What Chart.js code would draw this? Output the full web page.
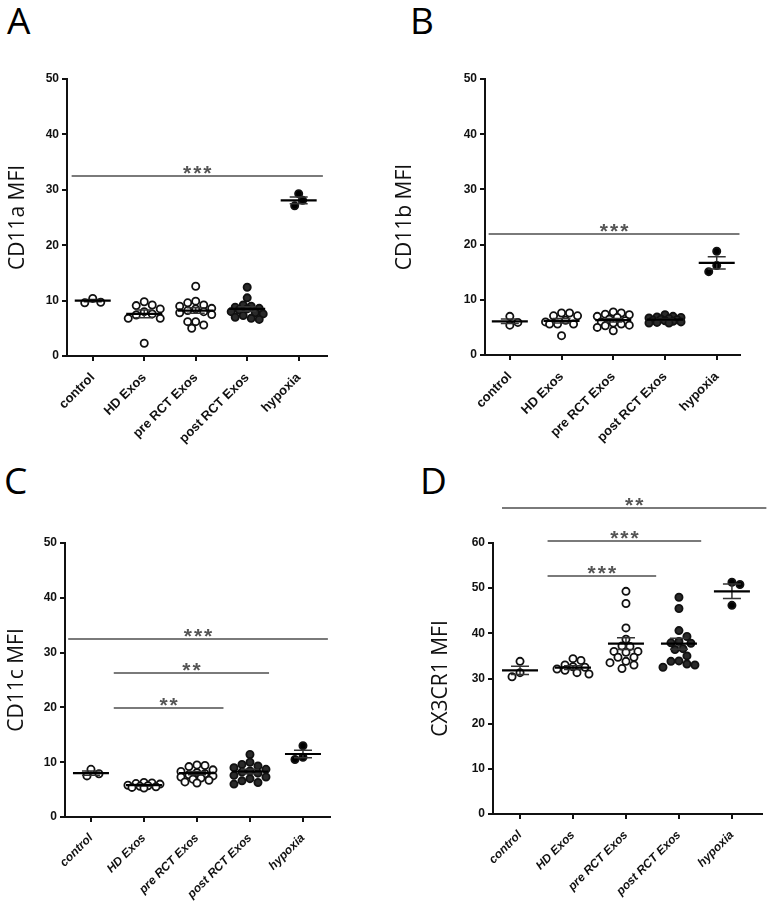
<!DOCTYPE html>
<html>
<head>
<meta charset="utf-8">
<script src="https://cdn.jsdelivr.net/npm/chart.js@4.4.1/dist/chart.umd.min.js"></script>
<style>
  body { margin: 0; background: #fff; width: 767px; height: 910px; position: relative; overflow: hidden; }
  canvas { position: absolute; }
  .letter { position: absolute; font-family: "Open Sans", sans-serif; font-size: 37px; line-height: 1; color: #000; }
</style>
</head>
<body>
<div class="letter" style="left:7px;top:1px">A</div>
<div class="letter" style="left:410px;top:1px">B</div>
<div class="letter" style="left:4px;top:461px">C</div>
<div class="letter" style="left:420px;top:461px">D</div>
<canvas id="cA" width="383" height="455" style="left:0;top:0"></canvas>
<canvas id="cB" width="384" height="455" style="left:383px;top:0"></canvas>
<canvas id="cC" width="383" height="455" style="left:0;top:455px"></canvas>
<canvas id="cD" width="384" height="455" style="left:383px;top:455px"></canvas>
<script>
/* ===== data ===== */
const categories = ["control", "HD Exos", "pre RCT Exos", "post RCT Exos", "hypoxia"];

// CD11a MFI (A)
const cd11aValues = [
  [10.4, 9.6, 9.7],
  [9.8, 9.2, 9.1, 8.5, 8.0, 7.6, 7.4, 6.8, 6.8, 2.3],
  [12.6, 9.9, 9.6, 9.2, 9.0, 8.6, 8.5, 8.2, 8.0, 7.8, 7.5, 6.2, 6.2, 5.6, 5.0],
  [12.4, 10.5, 9.2, 9.0, 8.8, 8.6, 8.5, 8.3, 8.0, 7.8, 7.6, 7.3, 7.0, 6.8, 6.6],
  [29.3, 28.1, 27.1]
];
const cd11aMeans = [10.0, 7.6, 8.2, 8.5, 28.1];
const cd11aSem = [0.2, 0.7, 0.5, 0.4, 0.6];
const cd11aSig = [[-0.41, 4.47, 32.5, "***"]];

// CD11b MFI (B)
const cd11bValues = [
  [7.0, 5.4, 5.9],
  [7.6, 7.6, 7.1, 7.1, 6.3, 6.0, 5.6, 5.6, 5.6, 3.5],
  [7.8, 7.6, 7.4, 7.3, 7.0, 6.8, 6.5, 6.2, 6.0, 5.8, 5.6, 5.4, 5.3, 5.0, 4.4],
  [7.3, 7.0, 6.9, 6.8, 6.7, 6.6, 6.5, 6.4, 6.3, 6.2, 6.1, 6.0, 5.9, 5.8, 5.8],
  [18.8, 16.2, 15.1]
];
const cd11bMeans = [6.1, 6.2, 6.3, 6.4, 16.7];
const cd11bSem = [0.4, 0.4, 0.3, 0.15, 1.1];
const cd11bSig = [[-0.41, 4.44, 22, "***"]];

// CD11c MFI (C)
const cd11cValues = [
  [8.7, 7.5, 7.9],
  [6.3, 6.2, 6.1, 6.0, 5.8, 5.7, 5.6, 5.5, 5.4, 5.3],
  [9.5, 9.4, 9.2, 8.6, 8.3, 8.1, 7.9, 7.7, 7.5, 7.3, 7.1, 6.9, 6.7, 6.4, 6.2],
  [11.4, 10.0, 9.6, 9.3, 9.0, 8.7, 8.4, 8.2, 8.0, 7.6, 7.3, 7.0, 6.6, 6.3, 6.0],
  [13.0, 10.9, 10.5]
];
const cd11cMeans = [8.0, 5.8, 8.0, 8.3, 11.5];
const cd11cSem = [0.4, 0.15, 0.3, 0.4, 0.7];
const cd11cSig = [[-0.43, 4.47, 32.4, "***"], [0.43, 3.36, 26.3, "**"], [0.43, 2.5, 19.9, "**"]];

// CX3CR1 MFI (D)
const cx3cr1Values = [
  [33.8, 30.4, 31.3],
  [34.4, 34.0, 33.0, 32.6, 32.5, 32.1, 31.8, 31.3, 31.0],
  [49.3, 46.6, 41.2, 38.7, 37.2, 37.1, 36.0, 36.0, 35.8, 34.7, 34.7, 33.8, 33.5, 33.0, 32.2],
  [48.0, 45.5, 40.6, 39.3, 38.2, 37.9, 37.8, 36.6, 36.4, 35.0, 33.9, 33.8, 33.2, 33.0, 32.5],
  [51.3, 50.8, 46.2]
];
const cx3cr1Means = [31.8, 32.4, 37.7, 37.7, 49.3];
const cx3cr1Sem = [0.9, 0.4, 1.3, 1.2, 1.6];
const cx3cr1Sig = [[-0.34, 4.65, 67.8, "**"], [0.52, 3.42, 60.4, "***"], [0.52, 2.57, 52.6, "***"]];

/* ===== styling / layout ===== */
const groupFill = ["#fff", "#fff", "#fff", "#2a2a2a", "#000"];
const panels = [
  { id: "cA", title: "CD11a MFI", values: cd11aValues, means: cd11aMeans, sem: cd11aSem, sig: cd11aSig,
    yMax: 50, xMin: -0.5, xMax: 4.55, italic: false, labelSize: 13, titleX: 18,
    box: { w: 383, h: 455, left: 67, right: 327, top: 79, bottom: 356 } },
  { id: "cB", title: "CD11b MFI", values: cd11bValues, means: cd11bMeans, sem: cd11bSem, sig: cd11bSig,
    yMax: 50, xMin: -0.48, xMax: 4.45, italic: false, labelSize: 13, titleX: 22,
    box: { w: 384, h: 455, left: 102, right: 357, top: 79, bottom: 355 } },
  { id: "cC", title: "CD11c MFI", values: cd11cValues, means: cd11cMeans, sem: cd11cSem, sig: cd11cSig,
    yMax: 50, xMin: -0.49, xMax: 4.51, italic: true, labelSize: 12, titleX: 17,
    box: { w: 383, h: 455, left: 65, right: 330, top: 88, bottom: 362 } },
  { id: "cD", title: "CX3CR1 MFI", values: cx3cr1Values, means: cx3cr1Means, sem: cx3cr1Sem, sig: cx3cr1Sig,
    yMax: 60, xMin: -0.51, xMax: 4.56, italic: true, labelSize: 12, titleX: 58,
    box: { w: 384, h: 455, left: 110, right: 379, top: 88, bottom: 359 } }
];

// spread points sideways (dot plot), staying inside a narrow column
function swarm(vals, pxY) {
  const order = vals.map((v, k) => k).sort((a, b) => vals[b] - vals[a]);
  const placed = [], offs = [];
  const d = 7.5, step = 4, maxS = 4;
  order.forEach(k => {
    const y = vals[k] * pxY;
    let best = 0, bestScore = -1;
    for (let s = 0; s <= maxS && bestScore < d; s++) {
      const cands = s === 0 ? [0] : (placed.length % 2 ? [s * step, -s * step] : [-s * step, s * step]);
      for (const x of cands) {
        let md = d;
        placed.forEach(q => { md = Math.min(md, Math.hypot(q.x - x, q.y - y)); });
        if (md > bestScore + 0.01) { bestScore = md; best = x; }
      }
    }
    placed.push({ x: best, y });
    offs[k] = best;
  });
  return offs;
}

function makeChart(p) {
  const b = p.box;
  const pxY = (b.bottom - b.top) / p.yMax;
  const pxX = (b.right - b.left) / (p.xMax - p.xMin);
  const titleSize = 21;
  const lineH = titleSize * 1.2;

  const datasets = p.values.map((vals, i) => {
    const offs = swarm(vals, pxY);
    return {
      data: vals.map((v, k) => ({ x: i + offs[k] / pxX, y: v })),
      pointRadius: 3.6,
      pointHoverRadius: 3.6,
      borderWidth: 1.8,
      borderColor: "#111",
      backgroundColor: groupFill[i]
    };
  });

  // mean + SEM bars and significance lines
  const marks = {
    id: "marks",
    afterDatasetsDraw(chart) {
      const { ctx } = chart;
      const xs = chart.scales.x, ys = chart.scales.y;
      ctx.save();
      p.means.forEach((m, i) => {
        const cx = xs.getPixelForValue(i);
        const my = ys.getPixelForValue(m);
        const hi = ys.getPixelForValue(m + p.sem[i]);
        const lo = ys.getPixelForValue(m - p.sem[i]);
        ctx.strokeStyle = "#333";
        ctx.lineWidth = 1.5;
        ctx.beginPath();
        ctx.moveTo(cx, hi); ctx.lineTo(cx, lo);
        ctx.moveTo(cx - 9, hi); ctx.lineTo(cx + 9, hi);
        ctx.moveTo(cx - 9, lo); ctx.lineTo(cx + 9, lo);
        ctx.stroke();
        ctx.strokeStyle = "#000";
        ctx.lineWidth = 2.2;
        ctx.beginPath();
        ctx.moveTo(cx - 18, my); ctx.lineTo(cx + 18, my);
        ctx.stroke();
      });
      p.sig.forEach(([a, e, y, label]) => {
        const x1 = xs.getPixelForValue(a), x2 = xs.getPixelForValue(e);
        const py = Math.round(ys.getPixelForValue(y));
        ctx.strokeStyle = "#7a7a7a";
        ctx.lineWidth = 2;
        ctx.beginPath();
        ctx.moveTo(x1, py); ctx.lineTo(x2, py);
        ctx.stroke();
        ctx.fillStyle = "#555";
        ctx.font = "bold 21px 'Liberation Sans', Arial, sans-serif";
        ctx.textAlign = "center";
        ctx.textBaseline = "alphabetic";
        ctx.letterSpacing = "2px";
        ctx.fillText(label, (x1 + x2) / 2 + 1, py + 4);
      });
      ctx.restore();
    }
  };

  const axisGrid = { drawOnChartArea: false, drawTicks: true, tickLength: 5, color: "#111", lineWidth: 2 };
  const axisBorder = { color: "#111", width: 2 };

  return new Chart(document.getElementById(p.id), {
    type: "scatter",
    data: { datasets },
    options: {
      responsive: false,
      animation: false,
      events: [],
      layout: { padding: { left: 0, top: b.top, right: b.w - b.right, bottom: 0 } },
      plugins: { legend: { display: false }, tooltip: { enabled: false } },
      scales: {
        x: {
          type: "linear",
          min: p.xMin,
          max: p.xMax,
          afterBuildTicks: s => { s.ticks = categories.map((c, i) => ({ value: i })); },
          afterFit: s => { s.height = b.h - b.bottom; },
          ticks: {
            callback: v => categories[v],
            autoSkip: false,
            minRotation: 45,
            maxRotation: 45,
            padding: 9,
            color: "#111",
            font: { family: "'Liberation Sans', Arial, sans-serif", size: p.labelSize, weight: "bold", style: p.italic ? "italic" : "normal" }
          },
          grid: axisGrid,
          border: axisBorder
        },
        y: {
          min: 0,
          max: p.yMax,
          afterFit: s => { s.width = b.left; },
          ticks: {
            stepSize: 10,
            padding: 3,
            color: "#111",
            font: { family: "'Liberation Sans', Arial, sans-serif", size: 12, weight: "bold" }
          },
          grid: axisGrid,
          border: axisBorder,
          title: {
            display: true,
            text: p.title,
            color: "#111",
            font: { family: "'Open Sans', sans-serif", size: titleSize },
            padding: { top: p.titleX - lineH / 2, bottom: 0 }
          }
        }
      }
    },
    plugins: [marks]
  });
}

panels.forEach(makeChart);
</script>
</body>
</html>
